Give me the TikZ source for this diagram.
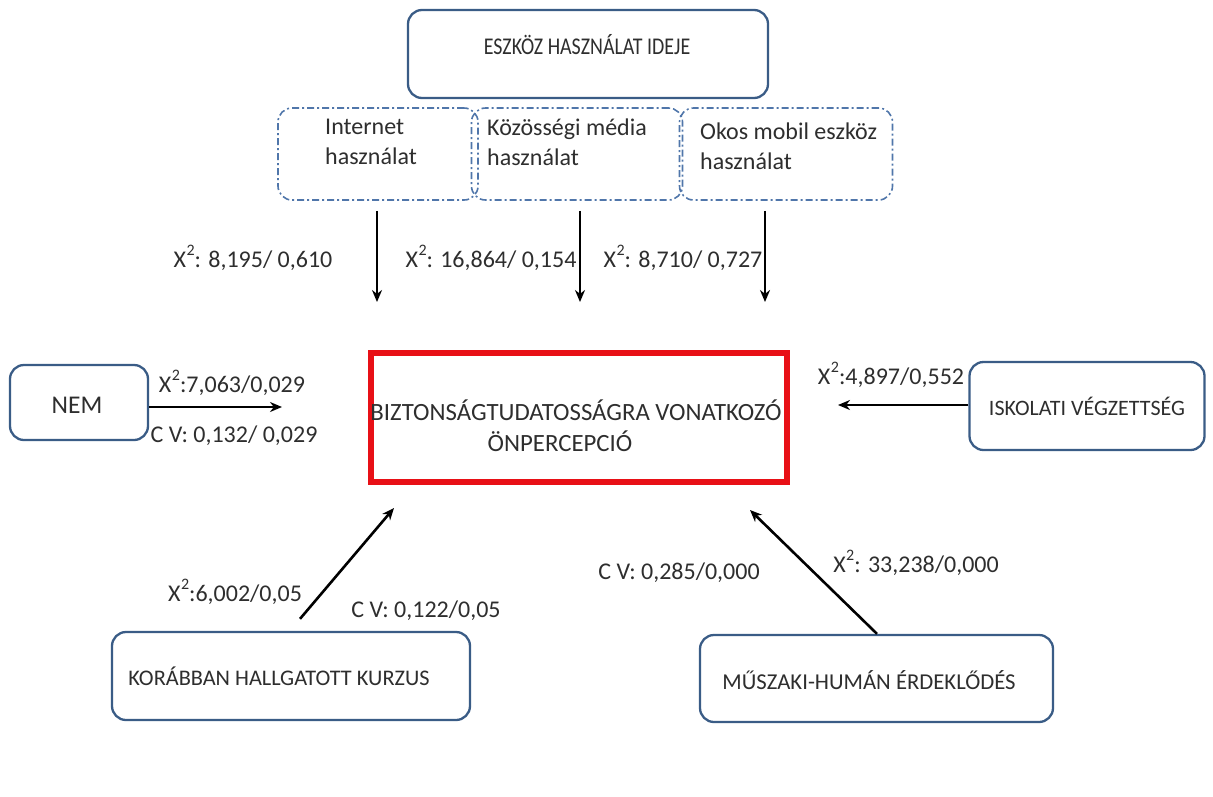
\documentclass[tikz,border=0pt]{standalone}
\usepackage{fontspec}
\setmainfont{Carlito}
\newfontfamily\narrowfont[FakeStretch=0.83]{Carlito}
\usetikzlibrary{arrows.meta,calc}
\definecolor{boxc}{RGB}{58,92,134}
\definecolor{dashc}{RGB}{80,118,170}
\definecolor{redc}{RGB}{232,16,22}
\newcommand{\xsq}{X\kern0.5pt\raisebox{0.5em}{\fontsize{16}{16}\selectfont 2}}
\begin{document}
\begin{tikzpicture}[x=1pt,y=1pt,
  box/.style={draw=boxc, line width=2.3pt, rounded corners=14pt, fill=white, inner sep=0},
  dbox/.style={draw=dashc, line width=1.6pt, rounded corners=14pt, inner sep=0,
     dash pattern=on 7pt off 3pt on 2pt off 3pt},
  arr/.style={-{Stealth[length=12pt,width=10pt]}, line width=2.6pt},
  txt/.style={inner sep=0, text=black!82},
  lab/.style={txt, font=\fontsize{24}{28}\selectfont},
  two/.style={txt, font=\fontsize{24}{30}\selectfont, align=left}]
\useasboundingbox (0,0) rectangle (1213,-796);
% top box
\node[box, minimum width=360, minimum height=88] (top) at (588,-54) {};
\node[txt, font=\narrowfont\fontsize{24}{28}\selectfont] (toptext) at (587,-45) {ESZKÖZ HASZNÁLAT IDEJE};
% dashed boxes
\node[dbox, minimum width=200, minimum height=92] (b1) at (378,-154) {};
\node[dbox, minimum width=211, minimum height=92] (b2) at (577,-154) {};
\node[dbox, minimum width=213, minimum height=92] (b3) at (786,-154) {};
\node[two, anchor=west] (t1) at (325,-142) {Internet\\használat};
\node[two, anchor=west] (t2) at (487,-142) {Közösségi média\\használat};
\node[two, anchor=west] (t3) at (700,-146) {Okos mobil eszköz\\használat};
% central box
\node[draw=redc, line width=6pt, minimum width=416, minimum height=129, inner sep=0] (c) at (579,-417.5) {};
\node[txt, font=\fontsize{24.8}{29}\selectfont] (ct1) at (576,-410) {BIZTONSÁGTUDATOSSÁGRA VONATKOZÓ};
\node[txt, font=\fontsize{24.8}{29}\selectfont] (ct2) at (560,-441) {ÖNPERCEPCIÓ};
% side boxes
\node[box, minimum width=138, minimum height=75] (nem) at (79,-402.5) {};
\node[txt, font=\fontsize{25.5}{29}\selectfont] (nemt) at (77,-405) {NEM};
\node[box, minimum width=235, minimum height=88] (isk) at (1087,-406) {};
\node[txt, font=\fontsize{22}{26}\selectfont] (iskt) at (1087,-406) {ISKOLATI VÉGZETTSÉG};
\node[box, minimum width=358, minimum height=88] (kor) at (291,-676) {};
\node[txt, font=\fontsize{22.3}{26}\selectfont] (kort) at (279,-676) {KORÁBBAN HALLGATOTT KURZUS};
\node[box, minimum width=353, minimum height=87] (mus) at (876.5,-678.5) {};
\node[txt, font=\fontsize{22.7}{26}\selectfont] (must) at (869,-680) {MŰSZAKI-HUMÁN ÉRDEKLŐDÉS};
% arrow end coordinates
\coordinate (e1) at (377,-302);
\coordinate (e2) at (580,-302);
\coordinate (e3) at (765,-302);
\coordinate (enem) at (282,-407);
\coordinate (eisk) at (838,-405);
\coordinate (ekor) at (394,-508);
\coordinate (emus) at (750,-510);
% arrows
\draw[arr] ($(b1.south)+(-1,-10)$) -- (e1);
\draw[arr] ($(b2.south)+(3,-10)$) -- (e2);
\draw[arr] ($(b3.south)+(-21,-10)$) -- (e3);
\draw[arr] (nem.east |- enem) -- (enem);
\draw[arr] (isk.west |- eisk) -- (eisk);
\draw[arr] ($(kor.north)+(9,12)$) -- (ekor);
\draw[arr] ($(mus.north)+(0.5,0)$) -- (emus);
% labels
\node[lab] (l1) at (253,-258) {\xsq: 8,195/ 0,610};
\node[lab] (l2) at (491,-258) {\xsq: 16,864/ 0,154};
\node[lab] (l3) at (683,-258) {\xsq: 8,710/ 0,727};
\node[lab] (l4) at (232,-383) {\xsq:7,063/0,029};
\node[lab] (l5) at (234,-436) {C V: 0,132/ 0,029};
\node[lab] (l6) at (891,-375) {\xsq:4,897/0,552};
\node[lab] (l7) at (235,-592) {\xsq:6,002/0,05};
\node[lab] (l8) at (426,-611) {C V: 0,122/0,05};
\node[lab] (l9) at (679,-573) {C V: 0,285/0,000};
\node[lab] (l10) at (916,-563) {\xsq: 33,238/0,000};
\end{tikzpicture}
\end{document}
